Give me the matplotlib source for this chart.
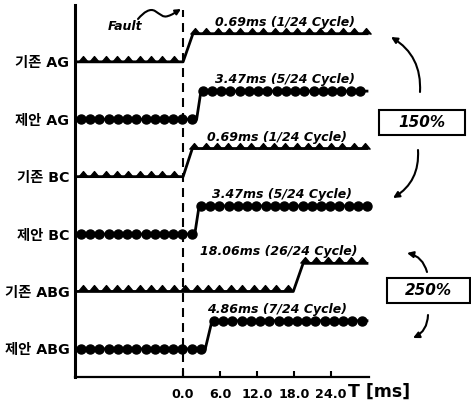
import matplotlib
matplotlib.use('Agg')
import matplotlib.pyplot as plt
from matplotlib.patches import FancyArrowPatch, Rectangle
from matplotlib.path import Path
import numpy as np

plt.rcParams['font.family'] = ['DejaVu Sans', 'Noto Sans CJK KR']

W, H = 471, 404

# values
names = ['기존 AG', '제안 AG', '기존 BC', '제안 BC', '기존 ABG', '제안 ABG']
delay_ms = [0.69, 3.47, 0.69, 3.47, 18.06, 4.86]
cycles = ['1/24', '5/24', '1/24', '5/24', '26/24', '7/24']
rise_start = [0.0, 2.2, 0.0, 1.9, 17.9, 3.6]
rise_end = [1.6, 2.9, 1.5, 2.6, 19.5, 4.7]
is_proposed = [False, True, False, True, False, True]
t_ticks = [0.0, 6.0, 12.0, 18.0, 24.0]
gain_labels = ['150%', '250%']


def fp(x, y):
    # picture pixel -> figure fraction
    return (x / W, 1 - y / H)


t0, t1 = -17.56, 30.2
t_end = 30.1
step = 0.49

fig = plt.figure(figsize=(W / 100, H / 100), dpi=100)
ax = fig.add_axes([75 / W, 1 - 377 / H, (369 - 75) / W, (377 - 5) / H])
ax.set_xlim(t0, t1)
ax.set_ylim(-0.49, 5.99)

tri = [(-1, 0), (0, 1.2), (1, 0)]
txt_x = [5.2, 5.2, 3.9, 4.7, 2.8, 3.9]

for i, name in enumerate(names):
    base = 5 - i
    ax.plot([t0, rise_start[i], rise_end[i], t_end],
            [base, base, base + step, base + step],
            color='k', lw=2, solid_capstyle='butt', zorder=3)
    if is_proposed[i]:
        gap, mk, ms, first = 1.5, 'o', 6.5, -16.6
    else:
        gap, mk, ms, first = 1.85, tri, 8.5, -16.3
    lo = np.arange(first, rise_start[i] - 0.1, gap)
    hi = np.arange(rise_end[i] + 0.3, t_end, gap)
    ax.plot(lo, np.full(len(lo), base), ls='none', marker=mk, ms=ms,
            color='k', zorder=4, clip_on=False)
    ax.plot(hi, np.full(len(hi), base + step), ls='none', marker=mk, ms=ms,
            color='k', zorder=4, clip_on=False)
    ax.text(txt_x[i], base + step + 0.2,
            '{:.2f}ms ({} Cycle)'.format(delay_ms[i], cycles[i]),
            fontsize=9, fontweight='bold', style='italic',
            ha='left', va='center', zorder=5)

# fault instant
ax.plot([0, 0], [-0.49, 5.9], color='k', lw=1.5, dashes=(4.3, 2.9), zorder=2)

for s in ['top', 'right']:
    ax.spines[s].set_visible(False)
ax.spines['left'].set_linewidth(2.2)
ax.spines['bottom'].set_linewidth(1.6)

ax.set_yticks([5 - i for i in range(len(names))], names)
ax.tick_params(axis='y', length=0, pad=4, labelsize=10.3)
for lbl in ax.get_yticklabels():
    lbl.set_fontweight('bold')

ax.set_xticks(t_ticks, ['{:.1f}'.format(v) for v in t_ticks])
ax.tick_params(axis='x', direction='in', length=4, width=1.5, pad=8, labelsize=9.2)
for lbl in ax.get_xticklabels():
    lbl.set_fontweight('bold')

fig.text(*fp(348, 392), 'T [ms]', fontsize=12.5, fontweight='bold', ha='left', va='center')

# fault marker
fig.text(*fp(125, 27), 'Fault', fontsize=9, fontweight='bold', style='italic',
         ha='center', va='center')
sq = [fp(138, 19), fp(144, 12), fp(150, 8), fp(155, 11),
      fp(160, 14), fp(163, 18), fp(168, 16),
      fp(172, 15), fp(176, 12), fp(181, 9)]
codes = [Path.MOVETO] + [Path.CURVE4] * 9
fig.add_artist(FancyArrowPatch(path=Path(sq, codes), arrowstyle='-|>',
                               mutation_scale=8, lw=1.5, color='k',
                               transform=fig.transFigure))

# gain boxes
boxes = [(379, 110, 465, 135), (387, 278, 470, 303)]
for lab, (x0, y0, x1, y1) in zip(gain_labels, boxes):
    fig.add_artist(Rectangle(fp(x0, y1), (x1 - x0) / W, (y1 - y0) / H,
                             fill=False, lw=1.5, ec='k', transform=fig.transFigure))
    fig.text(*fp((x0 + x1) / 2, (y0 + y1) / 2), lab, fontsize=11,
             fontweight='bold', style='italic', ha='center', va='center')

arrows = [((420, 92), (391, 37), 0.3),
          ((418, 150), (393, 198), -0.3),
          ((427, 272), (407, 253), 0.3),
          ((428, 315), (413, 338), -0.3)]
for a, b, rad in arrows:
    fig.add_artist(FancyArrowPatch(fp(*a), fp(*b),
                                   connectionstyle='arc3,rad={}'.format(rad),
                                   arrowstyle='-|>', mutation_scale=9, lw=1.5,
                                   color='k', shrinkA=0, shrinkB=0,
                                   transform=fig.transFigure))

fig.savefig('out.png', dpi=100)
